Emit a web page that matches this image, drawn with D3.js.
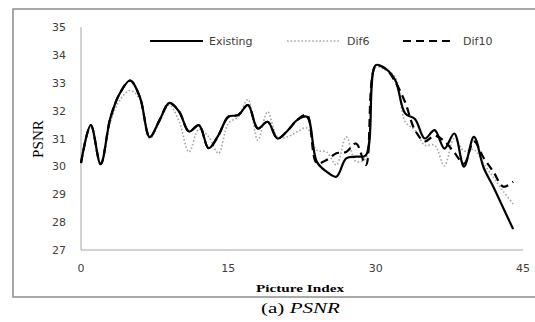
<!DOCTYPE html>
<html><head><meta charset="utf-8">
<script src="https://cdn.jsdelivr.net/npm/d3@7"></script>
<style>body{margin:0;background:#fff}svg{display:block}</style>
</head><body>
<svg id="c" width="535" height="322"></svg>
<script>
const pictureIndex = d3.range(0, 45);
const existing = [30.12,31.48,30.08,31.75,32.65,33.08,32.48,31.05,31.66,32.28,31.96,31.25,31.48,30.65,31.12,31.78,31.84,32.2,31.36,31.6,31.0,31.27,31.66,31.78,30.17,29.81,29.63,30.29,30.35,30.4,33.63,33.51,33.09,31.9,31.7,31.0,31.3,30.64,31.18,29.99,31.06,29.95,29.25,28.5,27.75];
const dif6 = [30.1,31.45,30.1,31.6,32.4,32.72,32.4,31.0,31.6,32.2,31.6,30.52,31.33,31.06,30.47,31.54,31.78,32.4,30.94,31.96,31.06,31.06,31.24,31.38,30.58,30.52,30.05,31.06,30.17,30.29,33.55,33.45,33.2,31.6,31.3,30.76,30.76,30.02,31.0,30.55,30.6,30.1,29.6,29.1,28.65];
const dif10 = [30.12,31.48,30.08,31.75,32.65,33.08,32.48,31.05,31.66,32.28,31.96,31.25,31.48,30.65,31.12,31.78,31.84,32.2,31.36,31.6,31.0,31.27,31.66,31.85,30.12,30.23,30.47,30.52,30.82,30.05,33.6,33.5,33.03,32.3,31.3,30.9,31.1,30.9,30.5,30.1,30.9,30.3,29.8,29.27,29.45];
const xTicks = [0,15,30,45];
const yTicks = [27,28,29,30,31,32,33,34,35];

const svg = d3.select("#c");
const x = d3.scaleLinear().domain([0,45]).range([81,523]);
const y = d3.scaleLinear().domain([27,35]).range([250,27]);

// outer frame (right edge outside the picture)
svg.append("rect").attr("x",13).attr("y",9).attr("width",540).attr("height",288)
  .attr("fill","none").attr("stroke","#8c8c8c").attr("stroke-width",1.5);

// axes
svg.append("line").attr("x1",x(0)).attr("x2",x(0)).attr("y1",y(35)).attr("y2",y(27))
  .attr("stroke","#a6a6a6").attr("stroke-width",1);
svg.append("line").attr("x1",x(0)).attr("x2",x(45)).attr("y1",y(27)).attr("y2",y(27))
  .attr("stroke","#a6a6a6").attr("stroke-width",1);

const tf = "DejaVu Sans, sans-serif";
svg.selectAll(".yt").data(yTicks).enter().append("text")
  .attr("x",66).attr("y",d=>y(d)+4).attr("text-anchor","end")
  .attr("font-family",tf).attr("font-size",11).attr("fill","#404040").text(d=>d);
svg.selectAll(".xt").data(xTicks).enter().append("text")
  .attr("x",d=>x(d)).attr("y",272).attr("text-anchor","middle")
  .attr("font-family",tf).attr("font-size",11).attr("fill","#404040").text(d=>d);

const line = arr => d3.line().x((d,i)=>x(pictureIndex[i])).y(d=>y(d)).curve(d3.curveCatmullRom.alpha(0.5))(arr);

svg.append("path").attr("d",line(dif6)).attr("fill","none").attr("stroke","#a6a6a6")
  .attr("stroke-width",1.6).attr("stroke-dasharray","1.6,2");
svg.append("path").attr("d",line(existing)).attr("fill","none").attr("stroke","#000")
  .attr("stroke-width",2.2);
svg.append("path").attr("d",line(dif10)).attr("fill","none").attr("stroke","#000")
  .attr("stroke-width",2.2).attr("stroke-dasharray","8,5");

// legend
const lg = [
  {name:"Existing", x1:150, x2:203, tx:209, stroke:"#000", w:2.2, dash:null},
  {name:"Dif6", x1:287, x2:341, tx:347, stroke:"#a6a6a6", w:1.6, dash:"1.6,2"},
  {name:"Dif10", x1:403, x2:455, tx:463, stroke:"#000", w:2.2, dash:"8,5"}
];
lg.forEach(l=>{
  const ln = svg.append("line").attr("x1",l.x1).attr("x2",l.x2).attr("y1",41).attr("y2",41)
    .attr("stroke",l.stroke).attr("stroke-width",l.w);
  if(l.dash) ln.attr("stroke-dasharray",l.dash);
  svg.append("text").attr("x",l.tx).attr("y",45).attr("font-family",tf).attr("font-size",11)
    .attr("fill","#404040").text(l.name);
});

// titles
svg.append("text").attr("transform","translate(43,139) rotate(-90)").attr("text-anchor","middle")
  .attr("font-family","Liberation Serif, serif").attr("font-size",14).attr("fill","#000")
  .attr("textLength",38).attr("lengthAdjust","spacingAndGlyphs").text("PSNR");
svg.append("text").attr("x",256).attr("y",292)
  .attr("font-family","Liberation Serif, serif").attr("font-weight","bold").attr("font-size",10.5)
  .attr("fill","#000").attr("textLength",88).attr("lengthAdjust","spacingAndGlyphs").text("Picture Index");
const cap = svg.append("text").attr("x",261).attr("y",313)
  .attr("font-family","Liberation Serif, serif").attr("font-size",15).attr("fill","#000")
  .attr("textLength",79).attr("lengthAdjust","spacingAndGlyphs");
cap.append("tspan").text("(a) ");
cap.append("tspan").attr("font-style","italic").text("PSNR");
</script>
</body></html>
